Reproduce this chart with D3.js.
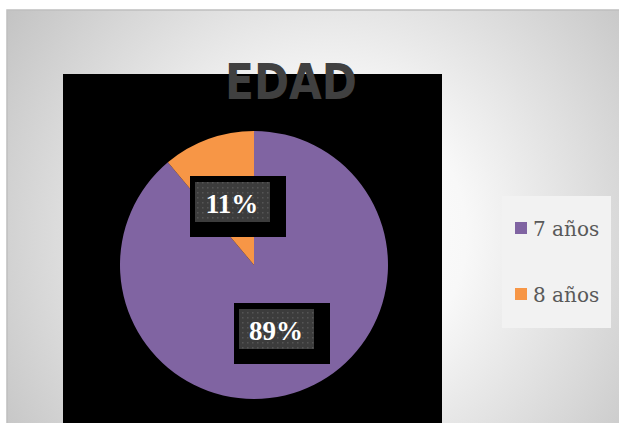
<!DOCTYPE html>
<html><head><meta charset="utf-8">
<script src="https://cdn.jsdelivr.net/npm/d3@7"></script>
<style>html,body{margin:0;padding:0;background:#fff;overflow:hidden}</style>
</head><body>
<svg id="c" width="619" height="423"></svg>
<script>
const categories = ["7 años", "8 años"];
const values = [8, 1];
const labels = ["89%", "11%"];
const colors = ["#8064A2", "#F79646"];
const title = "EDAD";

const svg = d3.select("#c");
const defs = svg.append("defs");
const rg = defs.append("radialGradient").attr("id","bg").attr("gradientUnits","userSpaceOnUse")
  .attr("cx",330).attr("cy",235).attr("r",390);
rg.append("stop").attr("offset","0").attr("stop-color","#ffffff");
rg.append("stop").attr("offset","0.35").attr("stop-color","#f8f8f8");
rg.append("stop").attr("offset","1").attr("stop-color","#c4c4c4");
const pat = defs.append("pattern").attr("id","dots").attr("patternUnits","userSpaceOnUse")
  .attr("width",5).attr("height",5);
pat.append("rect").attr("width",5).attr("height",5).attr("fill","#3c3c3c");
pat.append("rect").attr("x",2).attr("y",2).attr("width",1.5).attr("height",1.5).attr("fill","#555555");

svg.append("rect").attr("x",7).attr("y",10).attr("width",630).attr("height",430)
  .attr("fill","url(#bg)").attr("stroke","#bfbfbf").attr("stroke-width",1.5);

// plot area
svg.append("rect").attr("x",63).attr("y",74).attr("width",379).attr("height",360).attr("fill","#000");

const cx = 254, cy = 265, r = 134;
const pie = d3.pie().sort(null).value(d => d)(values);
const arc = d3.arc().innerRadius(0).outerRadius(r);
const g = svg.append("g").attr("transform",`translate(${cx},${cy})`);
g.selectAll("path").data(pie).join("path").attr("d",arc).attr("fill",(d,i)=>colors[i]);

// data labels
const labelPos = [[276, 330], [232, 203]];
labels.forEach((t,i)=>{
  const [x,y] = labelPos[i];
  const lg = svg.append("g");
  lg.append("rect").attr("x",x-42).attr("y",y-27).attr("width",96).attr("height",61).attr("fill","#000");
  lg.append("rect").attr("x",x-37).attr("y",y-21).attr("width",75).attr("height",40).attr("fill","url(#dots)");
  lg.append("text").attr("x",x).attr("y",y+10).attr("text-anchor","middle")
    .attr("font-family","Liberation Serif, serif").attr("font-weight","bold").attr("font-size",27)
    .attr("fill","#ffffff").text(t);
});

// title
svg.append("text").attr("x",291).attr("y",99).attr("text-anchor","middle")
  .attr("font-family","DejaVu Sans, sans-serif").attr("font-weight","bold").attr("font-size",50)
  .attr("textLength",132).attr("lengthAdjust","spacingAndGlyphs")
  .attr("fill","#404040")
  .text(title);

// legend
svg.append("rect").attr("x",502).attr("y",196).attr("width",109).attr("height",132).attr("fill","#f2f2f2");
const leg = svg.append("g");
categories.forEach((c,i)=>{
  const y = 228 + i*66;
  leg.append("rect").attr("x",515).attr("y",y-6).attr("width",12).attr("height",12).attr("fill",colors[i]);
  leg.append("text").attr("x",533).attr("y",y+8).attr("font-family","DejaVu Serif, serif")
    .attr("font-size",20).attr("fill","#595959").text(c);
});
</script>
</body></html>
